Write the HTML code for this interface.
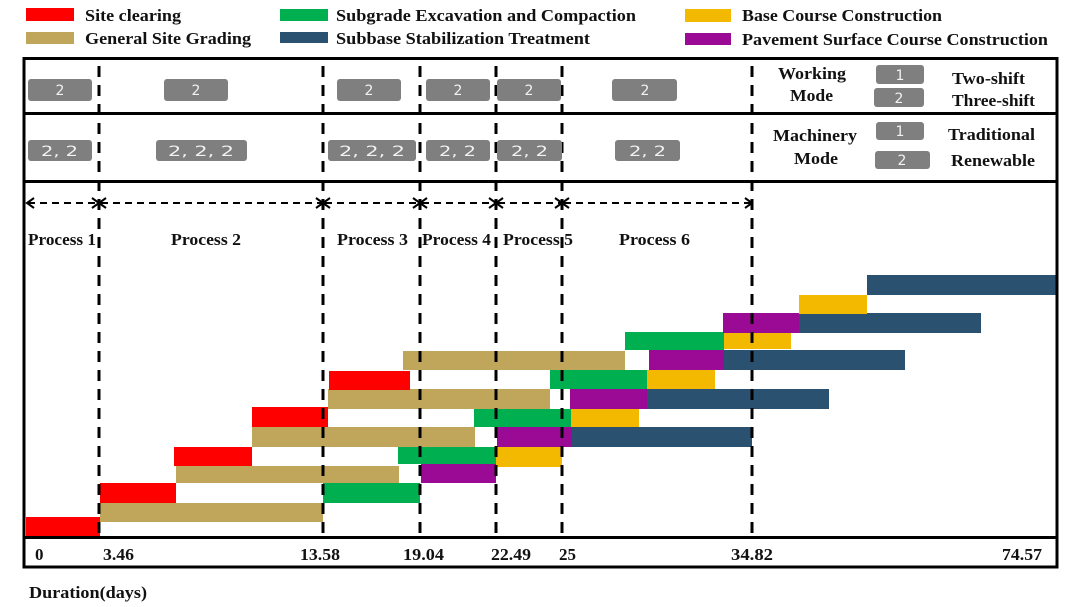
<!DOCTYPE html>
<html>
<head>
<meta charset="utf-8">
<style>
  html,body{margin:0;padding:0;background:#fff;}
  svg{display:block;}
  .t{font-family:"Liberation Serif","Times New Roman",serif;font-weight:bold;fill:#111;font-size:17px;}
  .b{font-family:"DejaVu Sans","Liberation Sans",sans-serif;fill:#f2f2f2;font-size:14px;}
</style>
</head>
<body>
<svg width="1080" height="607" viewBox="0 0 1080 607" xmlns="http://www.w3.org/2000/svg">
<rect width="1080" height="607" fill="#fff"/>

<!-- Legend -->
<rect x="26" y="8" width="48" height="13" fill="#ff0000"/>
<rect x="26" y="32" width="48" height="12" fill="#c0a65a"/>
<rect x="280" y="9" width="48" height="12" fill="#00b050"/>
<rect x="280" y="32" width="48" height="11" fill="#2b5171"/>
<rect x="685" y="9" width="46" height="13" fill="#f2b900"/>
<rect x="685" y="33" width="46" height="12" fill="#9b0a94"/>
<text class="t" x="85" y="21" textLength="96" lengthAdjust="spacingAndGlyphs">Site clearing</text>
<text class="t" x="85" y="44" textLength="166" lengthAdjust="spacingAndGlyphs">General Site Grading</text>
<text class="t" x="336" y="21" textLength="300" lengthAdjust="spacingAndGlyphs">Subgrade Excavation and Compaction</text>
<text class="t" x="336" y="44" textLength="254" lengthAdjust="spacingAndGlyphs">Subbase Stabilization Treatment</text>
<text class="t" x="742" y="21" textLength="200" lengthAdjust="spacingAndGlyphs">Base Course Construction</text>
<text class="t" x="742" y="45" textLength="306" lengthAdjust="spacingAndGlyphs">Pavement Surface Course Construction</text>

<!-- Bars -->
<g>
<rect x="26" y="517" width="74" height="20" fill="#ff0000"/>
<rect x="100" y="503" width="223" height="19" fill="#c0a65a"/>
<rect x="100" y="483" width="76" height="20" fill="#ff0000"/>
<rect x="323" y="483" width="97" height="20" fill="#00b050"/>
<rect x="176" y="466" width="223" height="17" fill="#c0a65a"/>
<rect x="421" y="464" width="75" height="19" fill="#9b0a94"/>
<rect x="174" y="447" width="78" height="19" fill="#ff0000"/>
<rect x="398" y="447" width="98" height="17" fill="#00b050"/>
<rect x="496" y="447" width="66" height="20" fill="#f2b900"/>
<rect x="252" y="427" width="223" height="20" fill="#c0a65a"/>
<rect x="497" y="427" width="75" height="20" fill="#9b0a94"/>
<rect x="572" y="427" width="180" height="20" fill="#2b5171"/>
<rect x="252" y="407" width="76" height="20" fill="#ff0000"/>
<rect x="474" y="409" width="98" height="18" fill="#00b050"/>
<rect x="571" y="409" width="68" height="18" fill="#f2b900"/>
<rect x="328" y="389" width="222" height="20" fill="#c0a65a"/>
<rect x="570" y="389" width="77" height="20" fill="#9b0a94"/>
<rect x="647" y="389" width="182" height="20" fill="#2b5171"/>
<rect x="329" y="371" width="81" height="19" fill="#ff0000"/>
<rect x="550" y="370" width="97" height="19" fill="#00b050"/>
<rect x="647" y="370" width="68" height="19" fill="#f2b900"/>
<rect x="403" y="351" width="222" height="19" fill="#c0a65a"/>
<rect x="649" y="350" width="75" height="20" fill="#9b0a94"/>
<rect x="724" y="350" width="181" height="20" fill="#2b5171"/>
<rect x="625" y="332" width="99" height="18" fill="#00b050"/>
<rect x="724" y="332" width="67" height="17" fill="#f2b900"/>
<rect x="723" y="313" width="76" height="20" fill="#9b0a94"/>
<rect x="799" y="313" width="182" height="20" fill="#2b5171"/>
<rect x="799" y="295" width="68" height="19" fill="#f2b900"/>
<rect x="867" y="275" width="189" height="20" fill="#2b5171"/>
</g>

<!-- Frame -->
<g stroke="#000" fill="none">
<rect x="24" y="58.5" width="1033" height="508.5" stroke-width="3"/>
<line x1="24" y1="113.5" x2="1057" y2="113.5" stroke-width="3"/>
<line x1="24" y1="181.5" x2="1057" y2="181.5" stroke-width="3"/>
<line x1="24" y1="537.5" x2="1057" y2="537.5" stroke-width="3"/>
</g>

<!-- Vertical dashed lines -->
<g stroke="#000" stroke-width="3" stroke-dasharray="11 8">
<line x1="99" y1="66" x2="99" y2="536"/>
<line x1="323" y1="66" x2="323" y2="536"/>
<line x1="420" y1="66" x2="420" y2="536"/>
<line x1="496" y1="66" x2="496" y2="536"/>
<line x1="562" y1="66" x2="562" y2="536"/>
<line x1="752" y1="66" x2="752" y2="536"/>
</g>

<!-- Horizontal process arrows -->
<g stroke="#000" stroke-width="2" fill="none">
<g stroke-dasharray="7 5">
<line x1="28" y1="203" x2="98" y2="203"/>
<line x1="101" y1="203" x2="322" y2="203"/>
<line x1="325" y1="203" x2="419" y2="203"/>
<line x1="422" y1="203" x2="495" y2="203"/>
<line x1="498" y1="203" x2="561" y2="203"/>
<line x1="564" y1="203" x2="751" y2="203"/>
</g>
<path d="M34,198 L27,203 L34,208"/>
<path d="M92,198 L99,203 L92,208 M106,198 L99,203 L106,208"/>
<path d="M316,198 L323,203 L316,208 M330,198 L323,203 L330,208"/>
<path d="M413,198 L420,203 L413,208 M427,198 L420,203 L427,208"/>
<path d="M489,198 L496,203 L489,208 M503,198 L496,203 L503,208"/>
<path d="M555,198 L562,203 L555,208 M569,198 L562,203 L569,208"/>
<path d="M745,198 L752,203 L745,208"/>
</g>

<!-- Process labels -->
<text class="t" x="28" y="245" textLength="68" lengthAdjust="spacingAndGlyphs">Process 1</text>
<text class="t" x="171" y="245" textLength="70" lengthAdjust="spacingAndGlyphs">Process 2</text>
<text class="t" x="337" y="245" textLength="71" lengthAdjust="spacingAndGlyphs">Process 3</text>
<text class="t" x="422" y="245" textLength="69" lengthAdjust="spacingAndGlyphs">Process 4</text>
<text class="t" x="503" y="245" textLength="70" lengthAdjust="spacingAndGlyphs">Process 5</text>
<text class="t" x="619" y="245" textLength="71" lengthAdjust="spacingAndGlyphs">Process 6</text>

<!-- Working mode boxes -->
<g fill="#7f7f7f">
<rect x="28" y="79" width="64" height="22" rx="3"/>
<rect x="164" y="79" width="64" height="22" rx="3"/>
<rect x="337" y="79" width="64" height="22" rx="3"/>
<rect x="426" y="79" width="64" height="22" rx="3"/>
<rect x="497" y="79" width="64" height="22" rx="3"/>
<rect x="612" y="79" width="65" height="22" rx="3"/>
<rect x="28" y="140" width="64" height="21" rx="3"/>
<rect x="156" y="140" width="91" height="21" rx="3"/>
<rect x="328" y="140" width="88" height="21" rx="3"/>
<rect x="426" y="140" width="64" height="21" rx="3"/>
<rect x="497" y="140" width="65" height="21" rx="3"/>
<rect x="615" y="140" width="65" height="21" rx="3"/>
<rect x="876" y="65" width="48" height="19" rx="3"/>
<rect x="874" y="88" width="50" height="19" rx="3"/>
<rect x="876" y="122" width="48" height="18" rx="3"/>
<rect x="875" y="151" width="55" height="18" rx="3"/>
</g>
<g class="b" text-anchor="middle">
<text x="60" y="95">2</text>
<text x="196" y="95">2</text>
<text x="369" y="95">2</text>
<text x="458" y="95">2</text>
<text x="529" y="95">2</text>
<text x="645" y="95">2</text>
<text x="900" y="80">1</text>
<text x="899" y="103">2</text>
<text x="900" y="136">1</text>
<text x="902" y="165">2</text>
</g>
<g class="b">
<text x="41" y="156" textLength="37" lengthAdjust="spacingAndGlyphs">2, 2</text>
<text x="168" y="156" textLength="66" lengthAdjust="spacingAndGlyphs">2, 2, 2</text>
<text x="339" y="156" textLength="66" lengthAdjust="spacingAndGlyphs">2, 2, 2</text>
<text x="439" y="156" textLength="37" lengthAdjust="spacingAndGlyphs">2, 2</text>
<text x="511" y="156" textLength="37" lengthAdjust="spacingAndGlyphs">2, 2</text>
<text x="629" y="156" textLength="37" lengthAdjust="spacingAndGlyphs">2, 2</text>
</g>

<!-- Mode legend text -->
<text class="t" x="778" y="79" textLength="68" lengthAdjust="spacingAndGlyphs">Working</text>
<text class="t" x="790" y="101" textLength="43" lengthAdjust="spacingAndGlyphs">Mode</text>
<text class="t" x="952" y="84" textLength="73" lengthAdjust="spacingAndGlyphs">Two-shift</text>
<text class="t" x="952" y="106" textLength="83" lengthAdjust="spacingAndGlyphs">Three-shift</text>
<text class="t" x="773" y="141" textLength="84" lengthAdjust="spacingAndGlyphs">Machinery</text>
<text class="t" x="794" y="164" textLength="44" lengthAdjust="spacingAndGlyphs">Mode</text>
<text class="t" x="948" y="140" textLength="87" lengthAdjust="spacingAndGlyphs">Traditional</text>
<text class="t" x="951" y="166" textLength="84" lengthAdjust="spacingAndGlyphs">Renewable</text>

<!-- Axis labels -->
<text class="t" x="35" y="560">0</text>
<text class="t" x="103" y="560" textLength="31" lengthAdjust="spacingAndGlyphs">3.46</text>
<text class="t" x="300" y="560" textLength="40" lengthAdjust="spacingAndGlyphs">13.58</text>
<text class="t" x="403" y="560" textLength="41" lengthAdjust="spacingAndGlyphs">19.04</text>
<text class="t" x="491" y="560" textLength="40" lengthAdjust="spacingAndGlyphs">22.49</text>
<text class="t" x="559" y="560" textLength="17" lengthAdjust="spacingAndGlyphs">25</text>
<text class="t" x="731" y="560" textLength="42" lengthAdjust="spacingAndGlyphs">34.82</text>
<text class="t" x="1002" y="560" textLength="40" lengthAdjust="spacingAndGlyphs">74.57</text>

<text class="t" x="29" y="598" font-size="16" textLength="118" lengthAdjust="spacingAndGlyphs">Duration(days)</text>
</svg>
</body>
</html>
